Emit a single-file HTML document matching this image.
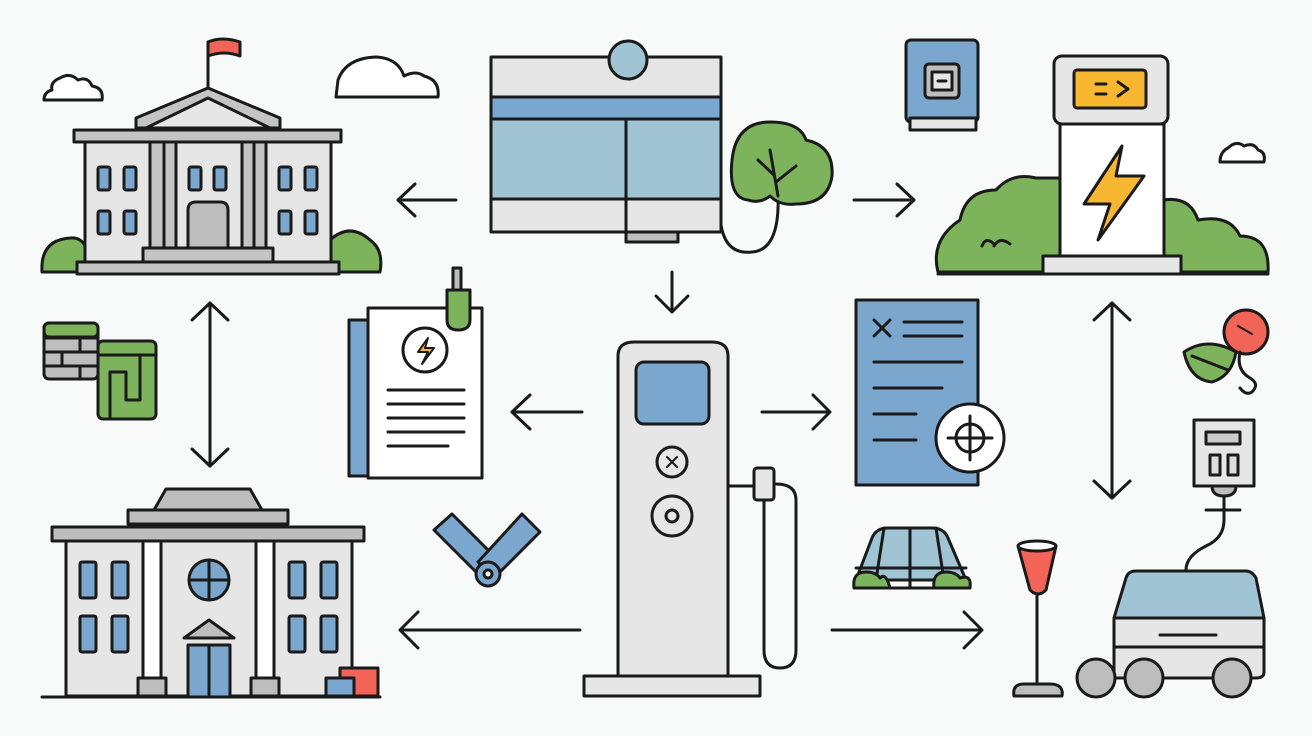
<!DOCTYPE html>
<html><head><meta charset="utf-8"><style>html,body{margin:0;padding:0;background:#f8f9f9}svg{display:block}</style></head><body>
<svg width="1312" height="736" viewBox="0 0 1312 736" xmlns="http://www.w3.org/2000/svg" fill="none" stroke="#1a1a1a" stroke-width="3" stroke-linejoin="round" stroke-linecap="round">
<rect width="1312" height="736" fill="#f8f9f9" stroke="none"/>
<path d="M44 100 L102 100 Q104 88 92 86 Q88 76 78 80 Q70 72 60 78 Q50 82 52 90 Q44 92 44 100Z" fill="#fff"/>
<path d="M336 97 L438 97 Q440 80 424 76 Q416 70 404 76 Q398 58 376 57 Q346 58 338 80 Z" fill="#fff"/>
<path d="M1220 162 L1264 162 Q1266 152 1258 150 Q1254 142 1244 146 Q1236 140 1228 148 Q1220 152 1220 162Z" fill="#fff"/>
<path d="M42 272 Q40 240 70 238 Q90 236 90 272Z" fill="#7cb35b"/>
<path d="M330 272 L330 240 Q350 222 370 240 Q384 250 380 272Z" fill="#7cb35b"/>
<line x1="208" y1="88" x2="208" y2="42"/><path d="M208 42 Q222 36 240 42 L240 56 Q224 50 208 56Z" fill="#f26457"/>
<path d="M136 118 L208 88 L280 118 L280 128 L136 128Z" fill="#c4c4c4"/>
<path d="M146 128 L208 98 L270 128Z" fill="#e6e6e6"/>
<rect x="74" y="130" width="267" height="12" fill="#c4c4c4"/>
<rect x="85" y="142" width="246" height="120" fill="#e6e6e6"/>
<rect x="150" y="142" width="14" height="112" fill="#c4c4c4"/><rect x="164" y="142" width="12" height="112" fill="#c4c4c4"/>
<rect x="242" y="142" width="12" height="112" fill="#c4c4c4"/><rect x="254" y="142" width="12" height="112" fill="#c4c4c4"/>
<path d="M188 248 L188 210 Q188 202 196 202 L220 202 Q228 202 228 210 L228 248Z" fill="#bdbdbd"/>
<g fill="#7ba7cf"><rect x="98" y="167" width="12" height="23" rx="2"/><rect x="124" y="167" width="12" height="23" rx="2"/><rect x="189" y="167" width="12" height="23" rx="2"/><rect x="214" y="167" width="12" height="23" rx="2"/><rect x="279" y="167" width="12" height="23" rx="2"/><rect x="305" y="167" width="12" height="23" rx="2"/><rect x="98" y="211" width="12" height="23" rx="2"/><rect x="124" y="211" width="12" height="23" rx="2"/><rect x="279" y="211" width="12" height="23" rx="2"/><rect x="305" y="211" width="12" height="23" rx="2"/></g>
<rect x="143" y="248" width="130" height="14" fill="#c4c4c4"/>
<rect x="77" y="262" width="262" height="12" fill="#c4c4c4"/>
<rect x="44" y="323" width="54" height="56" rx="5" fill="#bdbdbd"/><path d="M44 338 H98 M44 352 H98 M44 366 H98 M62 323 V338 M80 338 V352 M62 352 V366 M80 366 V379"/>
<rect x="44" y="323" width="54" height="14" rx="5" fill="#7cb35b"/>
<rect x="98" y="341" width="58" height="78" rx="5" fill="#7cb35b"/><path d="M98 355 H156 M110 419 V372 H126 V400 H140 V355"/>
<line x1="210" y1="303" x2="210" y2="466"/><path d="M192 320 L210 303 L228 320 M192 449 L210 466 L228 449"/>
<path d="M154 510 L166 489 L250 489 L262 510Z" fill="#bdbdbd"/>
<rect x="128" y="510" width="160" height="14" fill="#bdbdbd"/>
<rect x="52" y="527" width="312" height="14" fill="#bdbdbd"/>
<rect x="66" y="541" width="286" height="155" fill="#e6e6e6"/>
<rect x="143" y="541" width="18" height="145" fill="#fff"/><rect x="256" y="541" width="18" height="145" fill="#fff"/>
<circle cx="209" cy="580" r="20" fill="#7ba7cf"/><path d="M189 580 H229 M209 560 V600"/>
<path d="M184 638 L209 620 L234 638Z" fill="#bdbdbd"/>
<rect x="188" y="645" width="42" height="52" fill="#7ba7cf"/><line x1="209" y1="645" x2="209" y2="697"/>
<g fill="#7ba7cf"><rect x="80" y="562" width="16" height="36" rx="2"/><rect x="112" y="562" width="16" height="36" rx="2"/><rect x="80" y="616" width="16" height="36" rx="2"/><rect x="112" y="616" width="16" height="36" rx="2"/><rect x="289" y="562" width="16" height="36" rx="2"/><rect x="321" y="562" width="16" height="36" rx="2"/><rect x="289" y="616" width="16" height="36" rx="2"/><rect x="321" y="616" width="16" height="36" rx="2"/></g>
<rect x="138" y="678" width="28" height="18" fill="#bdbdbd"/><rect x="251" y="678" width="28" height="18" fill="#bdbdbd"/>
<rect x="340" y="668" width="38" height="28" fill="#f26457"/><rect x="326" y="678" width="28" height="18" fill="#7ba7cf"/>
<line x1="42" y1="697" x2="380" y2="697"/>
<path d="M398 200 H456 M415 184 L398 200 L415 216"/>
<path d="M400 630 H580 M418 612 L400 630 L418 648"/>
<path d="M512 412 H582 M530 395 L512 412 L530 429"/>
<rect x="491" y="57" width="230" height="175" fill="#e6e6e6"/>
<circle cx="628" cy="60" r="19" fill="#a0c4d4"/>
<rect x="491" y="97" width="230" height="22" fill="#7ba7cf"/>
<rect x="491" y="119" width="230" height="80" fill="#a0c4d4"/>
<line x1="626" y1="119" x2="626" y2="240"/><line x1="491" y1="199" x2="721" y2="199"/>
<rect x="626" y="232" width="52" height="10" fill="#bdbdbd"/>
<path d="M721 225 Q726 255 752 252 Q780 250 778 195"/>
<path d="M748 200 Q728 198 732 160 Q736 122 770 122 Q800 122 806 140 Q834 146 832 176 Q828 204 796 204 Q780 206 770 196 Q760 204 748 200Z" fill="#7cb35b"/>
<path d="M778 196 L770 150 M774 175 L758 160 M776 182 L796 166"/>
<path d="M672 272 V312 M656 296 L672 312 L688 296"/>
<path d="M854 200 H914 M897 184 L914 200 L897 216"/>
<rect x="349" y="320" width="120" height="156" fill="#7ba7cf"/>
<rect x="368" y="308" width="114" height="170" fill="#fff"/>
<rect x="453" y="268" width="8" height="22" fill="#bdbdbd"/>
<path d="M447 290 H470 V320 Q470 330 458 330 Q447 330 447 320Z" fill="#7cb35b"/>
<circle cx="425" cy="350" r="22" fill="#fff"/><path d="M428 338 L418 352 H428 L422 364 L434 348 H425Z" fill="#f7b731" stroke-width="2"/>
<path d="M388 390 H464 M388 404 H464 M388 418 H464 M388 432 H464 M388 446 H448"/>
<rect x="584" y="676" width="176" height="20" fill="#e6e6e6"/>
<path d="M618 676 V356 Q618 342 634 342 L712 342 Q728 342 728 356 V676Z" fill="#e6e6e6"/>
<rect x="636" y="362" width="73" height="62" rx="8" fill="#7ba7cf"/>
<circle cx="672" cy="462" r="15" fill="#e6e6e6"/><path d="M667 457 L677 467 M677 457 L667 467" stroke-width="2"/>
<circle cx="672" cy="516" r="20" fill="#e6e6e6"/><circle cx="672" cy="516" r="6"/>
<path d="M728 486 H756"/>
<rect x="754" y="468" width="20" height="32" rx="3" fill="#e6e6e6"/>
<path d="M764 500 V650 Q764 668 780 668 Q796 668 796 650 V500 Q796 484 776 484"/>
<path d="M762 412 H830 M813 395 L830 412 L813 429"/>
<path d="M832 630 H982 M964 612 L982 630 L964 648"/>
<path d="M434 530 L452 514 L500 562 L482 578Z" fill="#7ba7cf"/>
<path d="M540 532 L522 514 L478 562 L494 578Z" fill="#7ba7cf"/>
<circle cx="488" cy="574" r="12" fill="#7ba7cf"/><circle cx="488" cy="574" r="4" fill="#fff"/>
<path d="M856 580 L872 538 Q876 528 888 528 L932 528 Q944 528 948 538 L966 580Z" fill="#a0c4d4"/>
<path d="M856 568 H966 M910 528 V588 M884 528 L876 580 M936 528 L944 580"/>
<path d="M854 588 Q852 572 866 572 Q876 572 880 578 Q886 572 890 588Z" fill="#7cb35b"/>
<path d="M934 588 Q932 572 946 572 Q956 572 960 578 Q972 574 970 588Z" fill="#7cb35b"/>
<line x1="856" y1="588" x2="968" y2="588"/>
<rect x="856" y="300" width="122" height="185" fill="#7ba7cf"/>
<path d="M874 320 L890 336 M890 320 L874 336 M904 322 H962 M904 336 H962 M874 362 H962 M874 388 H942 M874 414 H916 M874 440 H916"/>
<circle cx="970" cy="438" r="34" fill="#fff"/><circle cx="970" cy="438" r="14"/><path d="M970 416 V460 M948 438 H992"/>
<rect x="906" y="40" width="72" height="82" rx="5" fill="#7ba7cf"/>
<rect x="910" y="118" width="66" height="12" fill="#e6e6e6"/>
<rect x="925" y="64" width="34" height="34" rx="4" fill="#bdbdbd"/><rect x="932" y="72" width="20" height="18" fill="#e6e6e6"/><path d="M938 81 H946"/>
<path d="M938 272 Q930 240 960 220 Q966 190 996 190 Q1012 172 1036 178 L1060 178 L1060 272Z" fill="#7cb35b"/>
<path d="M1164 272 L1164 200 Q1190 196 1198 220 Q1230 214 1240 236 Q1270 236 1268 272Z" fill="#7cb35b"/>
<path d="M982 246 Q986 236 994 244 M994 246 Q1000 236 1010 244"/>
<rect x="1054" y="56" width="114" height="68" rx="8" fill="#e6e6e6"/>
<rect x="1074" y="70" width="72" height="38" rx="3" fill="#f7b731"/>
<path d="M1096 84 H1106 M1096 94 H1106 M1118 82 L1128 89 L1118 96"/>
<rect x="1060" y="124" width="104" height="132" fill="#fff"/>
<path d="M1122 146 L1084 204 H1110 L1098 240 L1144 176 H1116Z" fill="#f7b731"/>
<rect x="1043" y="256" width="138" height="18" fill="#e6e6e6"/>
<line x1="938" y1="274" x2="1268" y2="274"/>
<line x1="1112" y1="303" x2="1112" y2="498"/><path d="M1094 320 L1112 303 L1130 320 M1094 481 L1112 498 L1130 481"/>
<path d="M1184 352 Q1208 336 1236 352 Q1232 376 1212 382 Q1190 380 1184 352Z" fill="#7cb35b"/><path d="M1192 356 L1228 370"/>
<circle cx="1246" cy="332" r="22" fill="#f26457"/><path d="M1238 326 L1252 334" stroke-width="2"/>
<path d="M1240 352 Q1236 370 1250 378 Q1260 384 1252 392 Q1246 396 1240 388"/>
<rect x="1194" y="420" width="60" height="66" fill="#e6e6e6"/>
<rect x="1206" y="432" width="34" height="12" fill="#ccc"/><rect x="1210" y="455" width="10" height="20" fill="#ddd"/><rect x="1228" y="455" width="10" height="20" fill="#ddd"/>
<path d="M1212 486 Q1212 496 1224 496 Q1236 496 1236 486Z" fill="#bdbdbd"/>
<path d="M1206 510 H1240 M1224 496 V520 Q1224 538 1206 546 Q1186 556 1186 570"/>
<path d="M1018 546 L1030 590 Q1038 598 1046 590 L1056 546Z" fill="#f26457"/><ellipse cx="1037" cy="546" rx="19" ry="5" fill="#fff"/>
<line x1="1037" y1="596" x2="1037" y2="683"/>
<path d="M1014 696 Q1012 684 1024 684 L1050 684 Q1064 684 1062 696Z" fill="#bdbdbd"/>
<path d="M1114 618 L1126 578 Q1128 571 1136 571 L1246 571 Q1252 571 1256 578 L1264 618Z" fill="#a0c4d4"/>
<path d="M1114 618 H1264 V672 Q1264 678 1256 678 H1114Z" fill="#e6e6e6"/>
<path d="M1114 647 H1264 M1160 635 H1216"/>
<circle cx="1096" cy="678" r="19" fill="#bdbdbd"/><circle cx="1144" cy="678" r="19" fill="#bdbdbd"/><circle cx="1232" cy="678" r="19" fill="#bdbdbd"/>
</svg>
</body></html>
